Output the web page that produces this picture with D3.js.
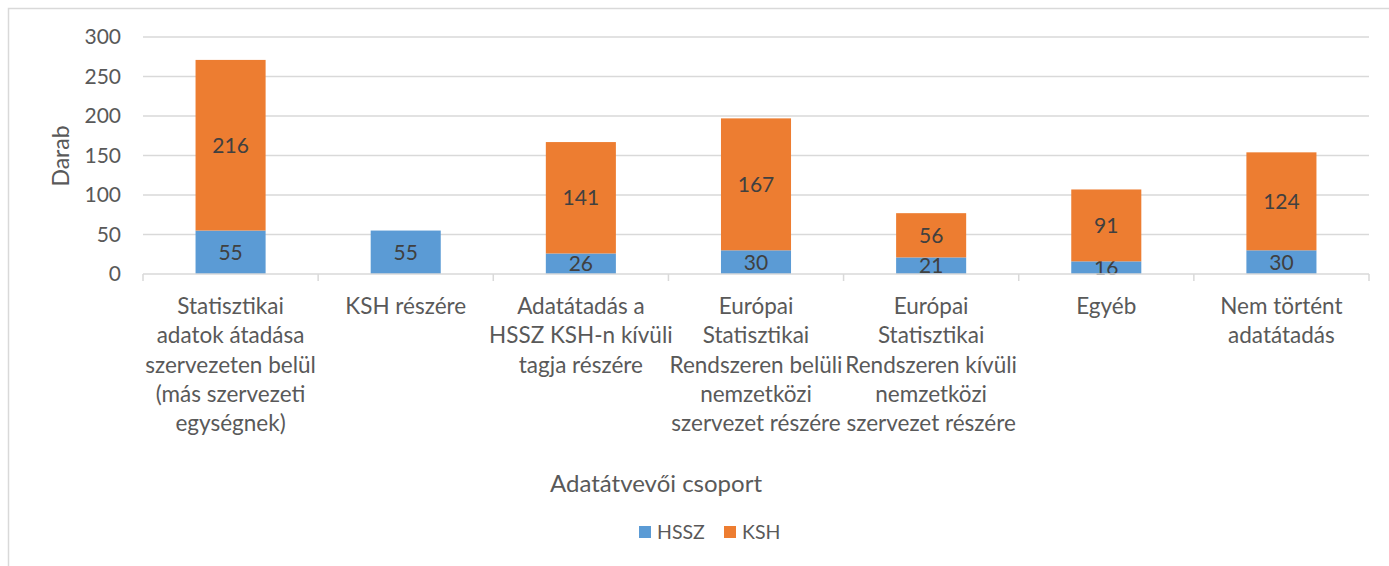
<!DOCTYPE html>
<html>
<head>
<meta charset="utf-8">
<script src="https://cdnjs.cloudflare.com/ajax/libs/d3/7.8.5/d3.min.js"></script>
<style>
  body { margin: 0; background: #fff; }
  svg { display: block; font-family: Lato, "Open Sans", sans-serif; }
</style>
</head>
<body>
<svg id="chart" width="1389" height="566"></svg>
<script>
// data
var categories = [
  ["Statisztikai", "adatok átadása", "szervezeten belül", "(más szervezeti", "egységnek)"],
  ["KSH részére"],
  ["Adatátadás a", "HSSZ KSH-n kívüli", "tagja részére"],
  ["Európai", "Statisztikai", "Rendszeren belüli", "nemzetközi", "szervezet részére"],
  ["Európai", "Statisztikai", "Rendszeren kívüli", "nemzetközi", "szervezet részére"],
  ["Egyéb"],
  ["Nem történt", "adatátadás"]
];
var hssz = [55, 55, 26, 30, 21, 16, 30];
var ksh = [216, 0, 141, 167, 56, 91, 124];
var seriesNames = ["HSSZ", "KSH"];
var yTicks = [0, 50, 100, 150, 200, 250, 300];
var colors = ["#5b9bd5", "#ed7d31"];

var svg = d3.select("#chart");
var margin = {left: 143, top: 37};
var W = 1369, H = 274;

// chart frame
svg.append("rect")
  .attr("x", 8.5).attr("y", 8.5)
  .attr("width", 1400).attr("height", 600)
  .attr("fill", "none").attr("stroke", "#d9d9d9").attr("stroke-width", 1.5);

var x = d3.scaleBand().domain(d3.range(categories.length))
  .range([margin.left, W]).paddingInner(0.6).paddingOuter(0.3);
var y = d3.scaleLinear().domain([0, 300]).range([H, margin.top]);

// gridlines
svg.append("g").selectAll("line").data(yTicks.slice(1)).enter().append("line")
  .attr("x1", margin.left).attr("x2", W)
  .attr("y1", function(d){ return y(d); }).attr("y2", function(d){ return y(d); })
  .attr("stroke", "#d9d9d9").attr("stroke-width", 1.5);

// y axis labels
var yAxis = d3.axisLeft(y).tickValues(yTicks).tickSize(0).tickPadding(0);
var yg = svg.append("g").attr("transform", "translate(" + (margin.left - 22) + ",0)").call(yAxis);
yg.select(".domain").remove();
yg.selectAll("text").attr("font-size", 21).attr("fill", "#595959").attr("font-family", "Lato, sans-serif");

// stacked bars
var rows = categories.map(function(c, i){ return {i: i, HSSZ: hssz[i], KSH: ksh[i]}; });
var stack = d3.stack().keys(seriesNames)(rows);

var layers = svg.append("g").selectAll("g").data(stack).enter().append("g")
  .attr("fill", function(d, k){ return colors[k]; });

layers.selectAll("rect").data(function(d){ return d; }).enter().append("rect")
  .filter(function(d){ return d[1] > d[0]; })
  .attr("x", function(d){ return x(d.data.i); })
  .attr("width", x.bandwidth())
  .attr("y", function(d){ return y(d[1]); })
  .attr("height", function(d){ return y(d[0]) - y(d[1]); });

layers.selectAll("text").data(function(d){ return d; }).enter().append("text")
  .filter(function(d){ return d[1] > d[0]; })
  .attr("x", function(d){ return x(d.data.i) + x.bandwidth() / 2; })
  .attr("y", function(d){ return y((d[0] + d[1]) / 2); })
  .attr("dy", "0.36em")
  .attr("text-anchor", "middle")
  .attr("font-size", 21)
  .attr("fill", "#404040")
  .text(function(d){ return d[1] - d[0]; });

// x axis line and ticks
var xg = svg.append("g");
xg.append("line").attr("x1", margin.left).attr("x2", W).attr("y1", H).attr("y2", H)
  .attr("stroke", "#d9d9d9").attr("stroke-width", 1.5);
xg.selectAll(".tk").data(d3.range(categories.length + 1)).enter().append("line")
  .attr("x1", function(d){ return margin.left + d * (W - margin.left) / categories.length; })
  .attr("x2", function(d){ return margin.left + d * (W - margin.left) / categories.length; })
  .attr("y1", H).attr("y2", H + 7)
  .attr("stroke", "#d9d9d9").attr("stroke-width", 1.5);

// category labels
var cl = svg.append("g").selectAll("text").data(categories).enter().append("text")
  .attr("text-anchor", "middle")
  .attr("font-size", 22.5)
  .attr("fill", "#595959")
  .attr("x", function(d, i){ return x(i) + x.bandwidth() / 2; })
  .attr("y", 314);
cl.selectAll("tspan").data(function(d){ return d; }).enter().append("tspan")
  .attr("x", function(){ return d3.select(this.parentNode).attr("x"); })
  .attr("dy", function(d, k){ return k === 0 ? 0 : 29.3; })
  .text(function(d){ return d; });

// axis titles
svg.append("text").attr("x", 656).attr("y", 492).attr("text-anchor", "middle")
  .attr("font-size", 24).attr("fill", "#595959").text("Adatátvevői csoport");
svg.append("text").attr("transform", "translate(69,156) rotate(-90)")
  .attr("text-anchor", "middle").attr("font-size", 23).attr("fill", "#595959").text("Darab");

// legend
var legendX = [639, 724];
var lg = svg.append("g").selectAll("g").data(seriesNames).enter().append("g")
  .attr("transform", function(d, i){ return "translate(" + legendX[i] + ",526)"; });
lg.append("rect").attr("width", 12).attr("height", 12)
  .attr("fill", function(d, i){ return colors[i]; });
lg.append("text").attr("x", 18).attr("y", 6).attr("dy", "0.36em")
  .attr("font-size", 19.5).attr("fill", "#595959").text(function(d){ return d; });
</script>
</body>
</html>
